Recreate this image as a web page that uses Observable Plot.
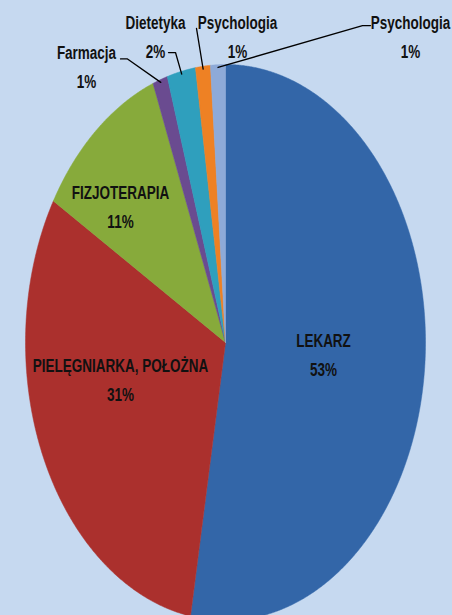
<!DOCTYPE html>
<html><head><meta charset="utf-8">
<script src="https://cdn.jsdelivr.net/npm/d3@7"></script>
<script src="https://cdn.jsdelivr.net/npm/@observablehq/plot@0.6"></script>
<style>
html,body{margin:0;padding:0;background:#c6d9f0;}
#chart svg{display:block;}
g[aria-label="shadow"]{filter:blur(4px);}
</style></head><body><div id="chart"></div>
<script>
// ---- data ----
const categories = ["LEKARZ","PIELĘGNIARKA, POŁOŻNA","FIZJOTERAPIA","Farmacja","Dietetyka","Psychologia","Psychologia"];
const values = [52.8, 30.7, 10.6, 1.2, 2.3, 1.2, 1.2];
const valueLabels = ["53%","31%","11%","1%","2%","1%","1%"];

// ---- style / layout ----
const colors = ["#3366a8","#ab302d","#87aa3b","#6a4b90","#2f9fbd","#ee8124","#8eaad8"];
// label anchor in data units (pie radius = 1)
const labelAt = [[0.49,-0.036],[-0.525,-0.126],[-0.525,0.496],[-0.695,1.0],[-0.35,1.11],[0.06,1.11],[0.925,1.11]];
// leader polyline extra points (elbow, end) in data units; null = inside label
const leaderPts = [null,null,null,
  [[-0.49,1.02],[-0.525,1.02]],
  [[-0.25,1.043],[-0.285,1.043]],
  [[-0.145,1.13]],
  [[0.685,1.14],[0.725,1.14]]];

const arcs = d3.pie().sort(null).value(d => d)(values);
const slices = arcs.map((a, i) => {
  const pts = [{x:0,y:0}];
  const n = Math.max(4, Math.ceil((a.endAngle - a.startAngle) / 0.005));
  for (let k = 0; k <= n; k++) {
    const t = a.startAngle + (a.endAngle - a.startAngle) * k / n;
    pts.push({x: Math.sin(t), y: Math.cos(t)});
  }
  pts.push({x:0,y:0});
  return pts;
});
const full = d3.range(0, 361).map(d => ({x: Math.sin(d*Math.PI/180), y: Math.cos(d*Math.PI/180)}));

const labels = categories.map((c, i) => ({text: c + "\n" + valueLabels[i], x: labelAt[i][0], y: labelAt[i][1]}));
const leaders = [];
arcs.forEach((a, i) => {
  if (!leaderPts[i]) return;
  const m = (a.startAngle + a.endAngle) / 2;
  leaders.push({id:i, x: 0.99*Math.sin(m), y: 0.99*Math.cos(m)});
  leaderPts[i].forEach(p => leaders.push({id:i, x:p[0], y:p[1]}));
});

const font = "'Liberation Sans Narrow','Arial Narrow',sans-serif";
const chart = Plot.plot({
  width: 452, height: 615, margin: 0,
  style: {background: "#c6d9f0", fontFamily: font},
  x: {domain: [-1, 1], range: [25, 425], axis: null},
  y: {domain: [-1, 1], range: [620, 64], axis: null},
  marks: [
    Plot.line(full, {x: "x", y: "y", fill: "#1a2a40", fillOpacity: 0.55, stroke: "none", dx: 3, dy: 4, ariaLabel: "shadow"}),
    ...slices.map((s, i) => Plot.line(s, {x: "x", y: "y", fill: colors[i], stroke: colors[i], strokeWidth: 0.5})),
    Plot.line(leaders, {x: "x", y: "y", z: "id", stroke: "#000", strokeWidth: 1.3}),
    Plot.text(labels, {x: "x", y: "y", text: "text", fontSize: 13.5, fontWeight: "bold", fill: "#111", lineHeight: 1.51, textAnchor: "middle"})
  ]
});
document.getElementById("chart").append(chart);
// stretch label glyphs vertically like the reference
d3.select(chart).selectAll("text").each(function() {
  const t = this.getAttribute("transform");
  if (t) this.setAttribute("transform", t + " scale(1,1.42)");
  else {
    const x = this.getAttribute("x") || 0, y = this.getAttribute("y") || 0;
    this.removeAttribute("x"); this.removeAttribute("y");
    this.setAttribute("transform", `translate(${x},${y}) scale(1,1.42)`);
  }
});
</script></body></html>
